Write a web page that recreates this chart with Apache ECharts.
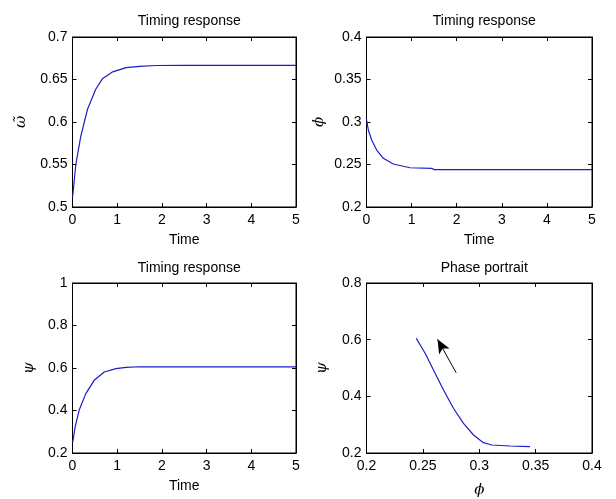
<!DOCTYPE html>
<html>
<head>
<meta charset="utf-8">
<script src="https://cdn.jsdelivr.net/npm/echarts@6/dist/echarts.min.js"></script>
<style>
html,body{margin:0;padding:0;background:#fff;}
#c{width:616px;height:499px;}
</style>
</head>
<body>
<div id="c"></div>
<script>
// ---- data ----
var titles = ['Timing response', 'Timing response', 'Timing response', 'Phase portrait'];
var xNames = ['Time', 'Time', 'Time', '\u03D5'];
var yNames = ['\u03C9\u0303', '\u03D5', '\u03C8', '\u03C8'];

var omegaT = [0, 0.013, 0.074, 0.186, 0.336, 0.52, 0.67, 0.9, 1.2, 1.5, 1.87, 2.5, 3, 4, 5];
var omegaY = [0.512, 0.517, 0.550, 0.5835, 0.615, 0.6385, 0.651, 0.659, 0.664, 0.6655, 0.6665, 0.6667, 0.6667, 0.6667, 0.6667];

var phiT = [0, 0.018, 0.04, 0.115, 0.226, 0.373, 0.594, 0.965, 1.445, 1.5, 2.5, 3, 4, 5];
var phiY = [0.303, 0.3015, 0.2906, 0.2788, 0.267, 0.2573, 0.2506, 0.2462, 0.2455, 0.2440, 0.2439, 0.2439, 0.2439, 0.2439];

var psiT = [0, 0.013, 0.058, 0.148, 0.298, 0.485, 0.71, 0.97, 1.2, 1.49, 2, 3, 4, 5];
var psiY = [0.25, 0.26, 0.322, 0.401, 0.4795, 0.542, 0.581, 0.597, 0.603, 0.606, 0.605, 0.605, 0.605, 0.605];

var phasePhi = [0.2441, 0.252, 0.2594, 0.2683, 0.2771, 0.286, 0.2949, 0.3037, 0.3112, 0.3274, 0.345];
var phasePsi = [0.6049, 0.552, 0.493, 0.4224, 0.3578, 0.3048, 0.2635, 0.2364, 0.2282, 0.2247, 0.2222];

var arrowFrom = [0.2795, 0.4834];
var arrowTo = [0.263, 0.6013];

var xRanges = [[0, 5, 1], [0, 5, 1], [0, 5, 1], [0.2, 0.4, 0.05]];
var yRanges = [[0.5, 0.7, 0.05], [0.2, 0.4, 0.05], [0.2, 1, 0.2], [0.2, 0.8, 0.2]];

// ---- chart ----
function pairs(a, b) { return a.map(function (v, i) { return [v, b[i]]; }); }

var FONT = 'Liberation Sans, Arial, sans-serif';
var grids = [
  {left: 72.5, top: 37, width: 223.5, height: 170},
  {left: 366.5, top: 37, width: 225.5, height: 170},
  {left: 72.5, top: 283, width: 223.5, height: 170},
  {left: 366.5, top: 283, width: 225.5, height: 170}
];
var titleTops = [9, 9, 256, 256];
var yGaps = [44, 40, 36, 37];
var seriesData = [pairs(omegaT, omegaY), pairs(phiT, phiY), pairs(psiT, psiY), pairs(phasePhi, phasePsi)];

var option = {
  animation: false,
  backgroundColor: '#ffffff',
  title: [], grid: [], xAxis: [], yAxis: [], series: []
};

grids.forEach(function (g, i) {
  option.grid.push({left: g.left, top: g.top, width: g.width, height: g.height,
    show: true, borderColor: '#000', borderWidth: 1, backgroundColor: '#fff', containLabel: false});
  option.title.push({text: titles[i], left: g.left + g.width / 2, top: titleTops[i], textAlign: 'center',
    textStyle: {fontFamily: FONT, fontSize: 14, fontWeight: 'normal', color: '#000'}});
  var xr = xRanges[i], yr = yRanges[i];
  var isPhi = (i === 3);
  option.xAxis.push({
    type: 'value', gridIndex: i, position: 'bottom', min: xr[0], max: xr[1], interval: xr[2],
    name: xNames[i], nameLocation: 'middle', nameGap: isPhi ? 30 : 26,
    nameTextStyle: {fontFamily: isPhi ? 'DejaVu Serif' : FONT, fontStyle: isPhi ? 'italic' : 'normal', fontSize: isPhi ? 15 : 14, color: '#000'},
    axisLine: {show: true, onZero: false, lineStyle: {color: '#000', width: 1}},
    axisTick: {show: true, inside: true, length: 4, lineStyle: {color: '#000'}},
    axisLabel: {show: true, margin: 6, fontFamily: FONT, fontSize: 14, color: '#000'},
    splitLine: {show: false}
  });
  option.xAxis.push({
    type: 'value', gridIndex: i, position: 'top', min: xr[0], max: xr[1], interval: xr[2],
    axisLine: {show: true, onZero: false, lineStyle: {color: '#000', width: 1}},
    axisTick: {show: true, inside: true, length: 4, lineStyle: {color: '#000'}},
    axisLabel: {show: false}, splitLine: {show: false}
  });
  option.yAxis.push({
    type: 'value', gridIndex: i, position: 'left', min: yr[0], max: yr[1], interval: yr[2],
    name: yNames[i], nameLocation: 'middle', nameGap: yGaps[i], nameRotate: 90,
    nameTextStyle: {fontFamily: 'DejaVu Serif', fontStyle: 'italic', fontSize: 15, color: '#000'},
    axisLine: {show: true, onZero: false, lineStyle: {color: '#000', width: 1}},
    axisTick: {show: true, inside: true, length: 4, lineStyle: {color: '#000'}},
    axisLabel: {show: true, margin: 5, fontFamily: FONT, fontSize: 14, color: '#000'},
    splitLine: {show: false}
  });
  option.yAxis.push({
    type: 'value', gridIndex: i, position: 'right', min: yr[0], max: yr[1], interval: yr[2],
    axisLine: {show: true, onZero: false, lineStyle: {color: '#000', width: 1}},
    axisTick: {show: true, inside: true, length: 4, lineStyle: {color: '#000'}},
    axisLabel: {show: false}, splitLine: {show: false}
  });
  var s = {
    type: 'line', xAxisIndex: 2 * i, yAxisIndex: 2 * i, data: seriesData[i],
    showSymbol: false, symbol: 'none', smooth: false,
    lineStyle: {color: '#1c1cc8', width: 1.2}, silent: true
  };
  if (isPhi) {
    s.markLine = {
      silent: true, symbol: ['none', 'arrow'], symbolSize: [9, 14],
      lineStyle: {color: '#000', width: 1, type: 'solid'},
      itemStyle: {color: '#000'},
      label: {show: false},
      data: [[{coord: arrowFrom}, {coord: arrowTo}]]
    };
  }
  option.series.push(s);
});

var chart = echarts.init(document.getElementById('c'), null, {renderer: 'canvas'});
chart.setOption(option);
</script>
</body>
</html>
